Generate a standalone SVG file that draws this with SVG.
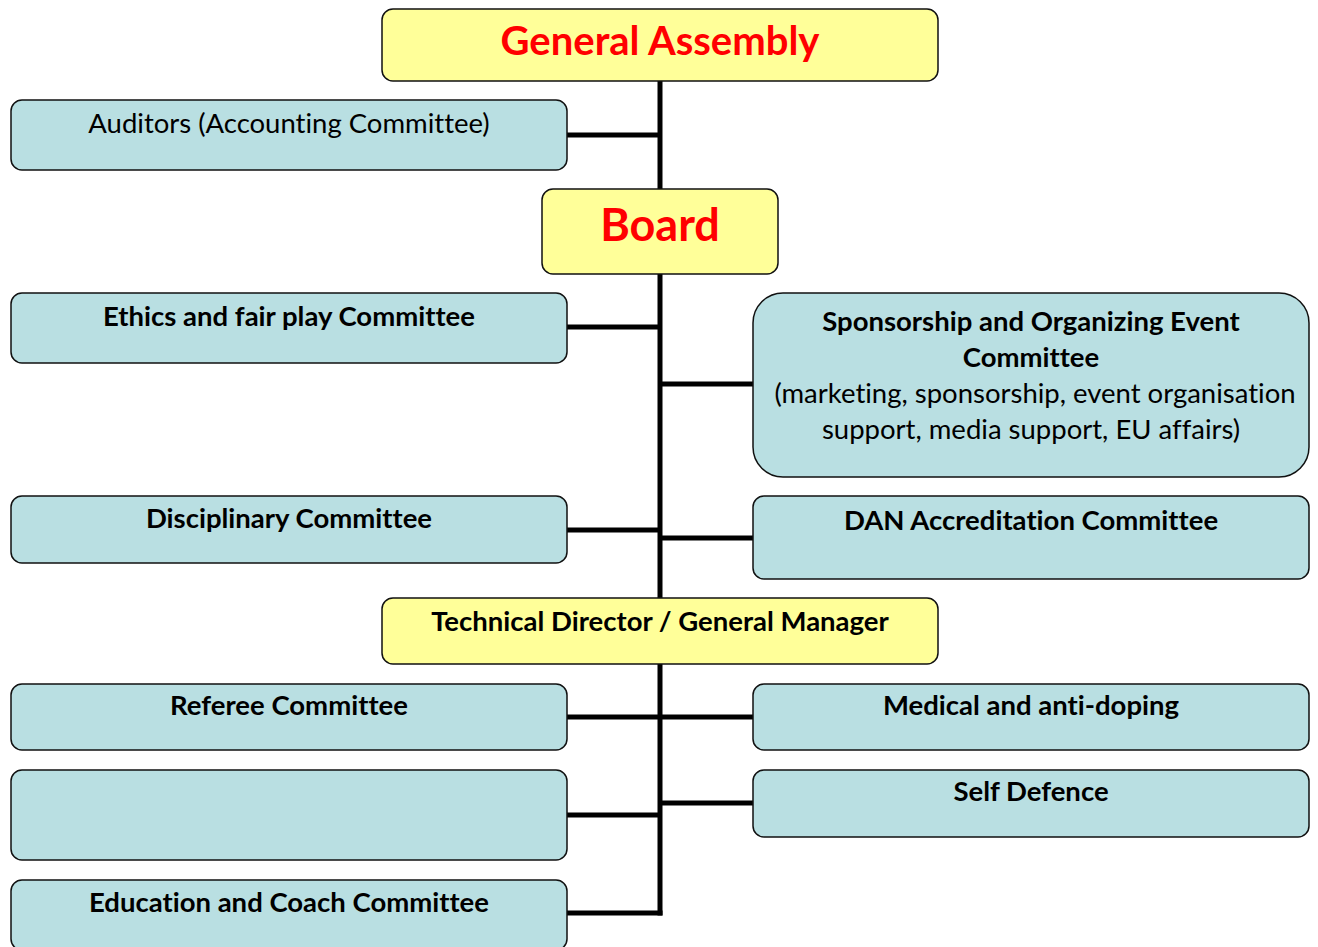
<svg xmlns="http://www.w3.org/2000/svg" width="1318" height="947" viewBox="0 0 1318 947">
<style>
.y{fill:#FFFF99;stroke:#111;stroke-width:1.5}
.b{fill:#B9DFE2;stroke:#111;stroke-width:1.5}
text{font-family:Lato,"Open Sans",sans-serif;font-variant-ligatures:none;text-anchor:middle}
.t{font-size:27.5px;fill:#000}
.tb{font-size:27.5px;font-weight:bold;fill:#000}
.r{font-weight:bold;fill:#FF0000}
.c{stroke:#000;stroke-width:5;fill:none}
</style>
<rect width="1318" height="947" fill="#fff"/>
<g id="connectors">
<line class="c" x1="660" y1="81" x2="660" y2="189"/>
<line class="c" x1="567" y1="135" x2="660" y2="135"/>
<line class="c" x1="660" y1="274" x2="660" y2="598"/>
<line class="c" x1="567" y1="327" x2="660" y2="327"/>
<line class="c" x1="660" y1="384" x2="753" y2="384"/>
<line class="c" x1="567" y1="530" x2="660" y2="530"/>
<line class="c" x1="660" y1="538" x2="753" y2="538"/>
<line class="c" x1="660" y1="664" x2="660" y2="915.5"/>
<line class="c" x1="567" y1="717" x2="753" y2="717"/>
<line class="c" x1="567" y1="815" x2="660" y2="815"/>
<line class="c" x1="660" y1="803" x2="753" y2="803"/>
<line class="c" x1="567" y1="913" x2="662.5" y2="913"/>
</g>
<g id="general-assembly">
<rect class="y" x="382" y="9" width="556" height="72" rx="11"/>
<text class="r" x="660" y="55" font-size="40">General Assembly</text>
</g>
<g id="auditors">
<rect class="b" x="11" y="100" width="556" height="70" rx="11"/>
<text class="t" x="289" y="133">Auditors (Accounting Committee)</text>
</g>
<g id="board">
<rect class="y" x="542" y="189" width="236" height="85" rx="11"/>
<text class="r" x="660" y="241" font-size="45">Board</text>
</g>
<g id="ethics">
<rect class="b" x="11" y="293" width="556" height="70" rx="11"/>
<text class="tb" x="289" y="326">Ethics and fair play Committee</text>
</g>
<g id="sponsorship">
<rect class="b" x="753" y="293" width="556" height="184" rx="30"/>
<text class="tb" x="1031" y="331">Sponsorship and Organizing Event</text>
<text class="tb" x="1031" y="367">Committee</text>
<text class="t" x="1035" y="403">(marketing, sponsorship, event organisation</text>
<text class="t" x="1031" y="439">support, media support, EU affairs)</text>
</g>
<g id="disciplinary">
<rect class="b" x="11" y="496" width="556" height="67" rx="11"/>
<text class="tb" x="289" y="528">Disciplinary Committee</text>
</g>
<g id="dan">
<rect class="b" x="753" y="496" width="556" height="83" rx="11"/>
<text class="tb" x="1031" y="530">DAN Accreditation Committee</text>
</g>
<g id="technical-director">
<rect class="y" x="382" y="598" width="556" height="66" rx="11"/>
<text class="tb" x="660" y="631">Technical Director / General Manager</text>
</g>
<g id="referee">
<rect class="b" x="11" y="684" width="556" height="66" rx="11"/>
<text class="tb" x="289" y="715">Referee Committee</text>
</g>
<g id="medical">
<rect class="b" x="753" y="684" width="556" height="66" rx="11"/>
<text class="tb" x="1031" y="715">Medical and anti-doping</text>
</g>
<g id="empty-box">
<rect class="b" x="11" y="770" width="556" height="90" rx="11"/>
</g>
<g id="self-defence">
<rect class="b" x="753" y="770" width="556" height="67" rx="11"/>
<text class="tb" x="1031" y="801">Self Defence</text>
</g>
<g id="education">
<rect class="b" x="11" y="880" width="556" height="70" rx="11"/>
<text class="tb" x="289" y="912">Education and Coach Committee</text>
</g>
</svg>
